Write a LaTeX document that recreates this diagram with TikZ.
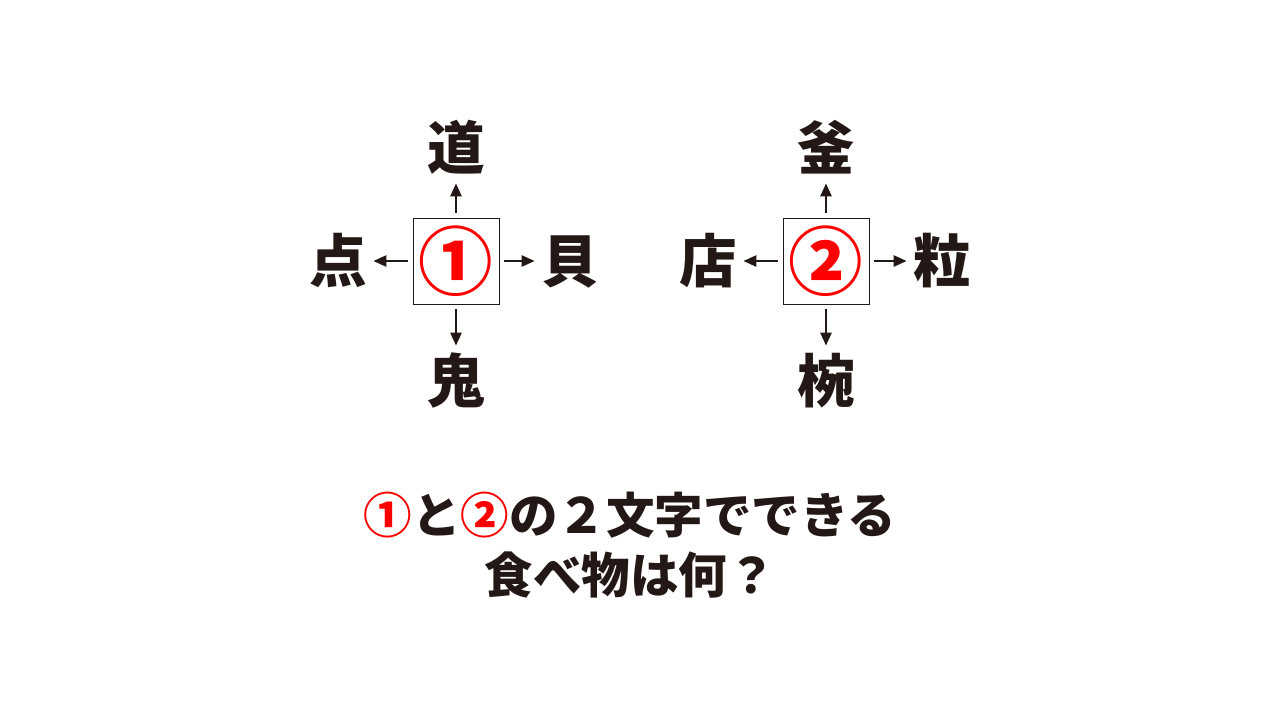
\documentclass[tikz,border=0pt]{standalone}
\usepackage{fontspec}
\newfontfamily\jpfont{Noto Sans CJK JP}
\usetikzlibrary{shapes,arrows,arrows.meta}
\definecolor{ink}{RGB}{35,24,21}
\definecolor{mark}{RGB}{255,0,0}
\tikzstyle{kanji} = [text=ink, inner sep=0pt, text height=36pt, text depth=5pt,
    font=\jpfont\bfseries\fontsize{41pt}{41pt}\selectfont]
\tikzstyle{block} = [rectangle, draw=ink, line width=0.7pt, minimum size=2.15cm,
    inner sep=0pt, text=mark, font=\jpfont\bfseries\fontsize{53pt}{53pt}\selectfont]
\tikzstyle{line} = [draw=ink, line width=1.3pt, -{Triangle[length=3.2mm,width=2.8mm]},
    shorten <=1.2mm, shorten >=1.6mm]
\tikzstyle{question} = [text=ink, inner sep=0pt,
    font=\jpfont\bfseries\fontsize{34.5pt}{34.5pt}\selectfont]

\begin{document}
\begin{tikzpicture}[node distance = 2.9cm, auto]
    \fill[white] (0,0) rectangle (32,-18);
    \useasboundingbox (0,0) rectangle (32,-18);
    % Place nodes
    \node [block] (one) at (11.4,-6.525) {①};
    \node [kanji, above of=one, node distance=2.825cm] (michi) {道};
    \node [kanji, left of=one, node distance=2.95cm] (ten) {点};
    \node [kanji, right of=one, node distance=2.85cm] (kai) {貝};
    \node [kanji, below of=one, node distance=3cm] (oni) {鬼};

    \node [block] (two) at (20.65,-6.525) {②};
    \node [kanji, above of=two, node distance=2.825cm] (kama) {釜};
    \node [kanji, left of=two, node distance=2.95cm] (mise) {店};
    \node [kanji, right of=two, node distance=2.9cm] (tsubu) {粒};
    \node [kanji, below of=two, node distance=3cm] (wan) {椀};

    \node [question] (ask) at (15.75,-12.875) {\textcolor{mark}{①}と\textcolor{mark}{②}の２文字でできる};
    \node [question, below of=ask, node distance=1.5cm] (food) {食べ物は何？};

    % Draw edges
    \path [line] (one) -- (michi);
    \path [line] (one) -- (ten);
    \path [line] (one) -- (kai);
    \path [line] (one) -- (oni);
    \path [line] (two) -- (kama);
    \path [line] (two) -- (mise);
    \path [line] (two) -- (tsubu);
    \path [line] (two) -- (wan);
\end{tikzpicture}
\end{document}
